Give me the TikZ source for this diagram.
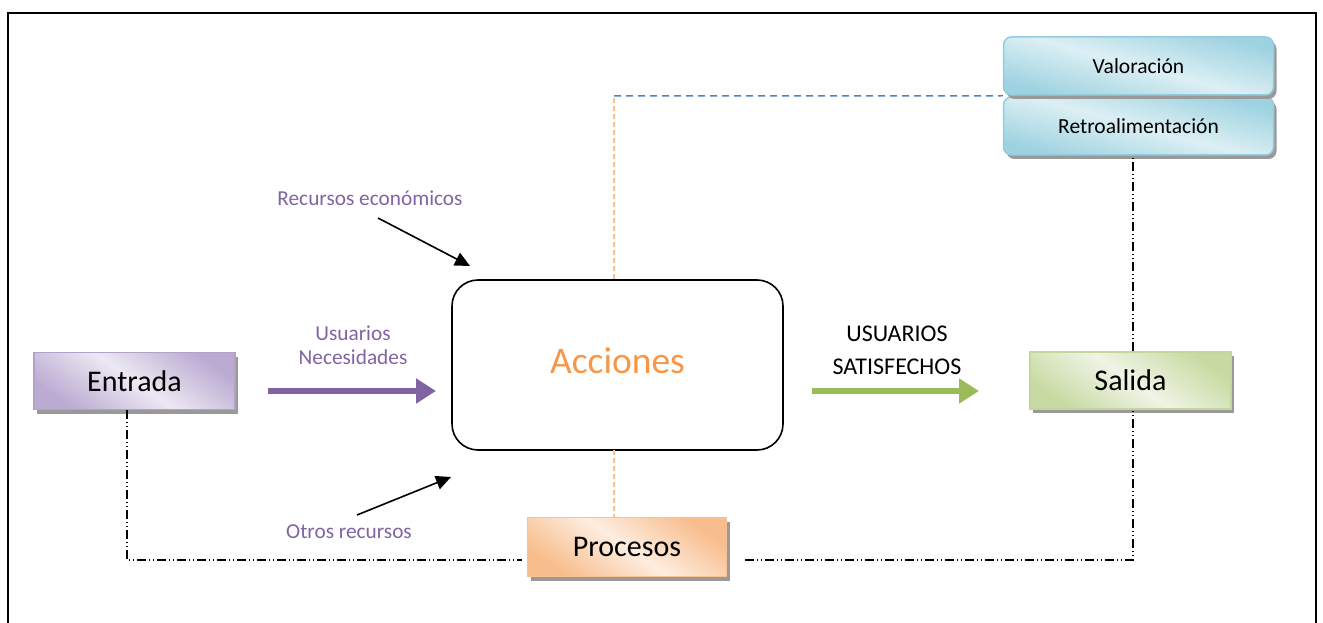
\documentclass[tikz,border=0pt]{standalone}
\usepackage{fontspec}
\setmainfont{Carlito}
\usetikzlibrary{arrows.meta,shadows}
\definecolor{txtpurple}{HTML}{8064A2}
\definecolor{arrgreen}{HTML}{9BBB59}
\definecolor{txtorange}{HTML}{F79646}
\definecolor{dashorange}{HTML}{FAC090}
\definecolor{dashblue}{HTML}{4F81BD}
\definecolor{pBorder}{HTML}{B3A2C7}\definecolor{pDark}{HTML}{BBABD2}\definecolor{pLight}{HTML}{ECE8F3}
\definecolor{gBorder}{HTML}{C3D69B}\definecolor{gDark}{HTML}{C8DAA2}\definecolor{gLight}{HTML}{EFF4E6}
\definecolor{oBorder}{HTML}{FAC090}\definecolor{oDark}{HTML}{F8BD8C}\definecolor{oLight}{HTML}{FDEDE0}
\definecolor{bBorder}{HTML}{93CDDD}\definecolor{bDark}{HTML}{9DD2E0}\definecolor{bLight}{HTML}{DCEFF4}
\tikzset{
  boxshadow/.style={drop shadow={shadow xshift=3pt,shadow yshift=-4pt,fill=black!40,opacity=1}},
  gbox/.style={draw=#1Border,line width=1.5pt,boxshadow,
    top color=#1Dark,bottom color=#1Dark,middle color=#1Light,shading angle=-35,
    inner sep=0pt,font=\fontsize{30}{34}\selectfont},
  smallbox/.style={draw=bBorder,line width=1.5pt,rounded corners=8pt,boxshadow,
    top color=bDark,bottom color=bDark,middle color=bLight,shading angle=-15,
    minimum width=270pt,minimum height=58pt,inner sep=0pt,font=\fontsize{21.5}{24}\selectfont},
  dashdotdot/.style={line width=1.4pt,dash pattern=on 9pt off 3pt on 1pt off 3pt on 1pt off 3pt},
  blackarrow/.style={line width=1.6pt,-{Triangle[length=15pt,width=14pt]}},
  bigarrow/.style={line width=6pt,-{Triangle[length=20pt,width=24pt]}},
  lbl/.style={font=\fontsize{21.3}{24}\selectfont,align=center,inner sep=0pt}
}
\begin{document}
\begin{tikzpicture}[x=1pt,y=-1pt]
\useasboundingbox (0,0) rectangle (1323,623);
% outer frame
\draw[line width=2pt] (8,640) -- (8,13) -- (1316,13) -- (1316,640);

% boxes
\node[gbox=p,minimum width=201pt,minimum height=57pt] (entrada) at (134.5,381) {Entrada};
\node[gbox=g,minimum width=201pt,minimum height=57pt] (salida) at (1130.5,380.5) {Salida};
\node[gbox=o,minimum width=199pt,minimum height=59pt] (procesos) at (627,547) {Procesos};
\node[smallbox] (retro) at (1138.5,126) {Retroalimentación};
\node[smallbox] (valor) at (1138.5,66) {Valoración};
\node[draw,line width=1.6pt,rounded corners=26pt,minimum width=331pt,minimum height=170pt,
      text=txtorange,font=\fontsize{37.5}{42}\selectfont] (acciones) at (617.5,365) {\raisebox{8pt}{Acciones}};

% labels
\node[lbl,text=txtpurple] (recec) at (370,198) {Recursos económicos};
\node[lbl,text=txtpurple] (otros) at (349,532) {Otros recursos};
\node[lbl,text=txtpurple,font=\fontsize{21.3}{24}\selectfont] (usnec) at (353,345) {Usuarios\\Necesidades};
\node[lbl,font=\fontsize{24}{33}\selectfont] (ussat) at (897,350) {USUARIOS\\SATISFECHOS};

% coordinates
\coordinate (re1) at (378,218);
\coordinate (re2) at (470,266);
\coordinate (ot1) at (357,515);
\coordinate (ot2) at (451,477);
\coordinate (pa1) at (268,391);
\coordinate (pa2) at (436,391);
\coordinate (ga1) at (812,391);
\coordinate (ga2) at (979,391);
\coordinate (lcorner) at (127,560);
\coordinate (rcorner) at (1133,560);
\coordinate (pright) at (745,560);
\coordinate (topcorner) at (614,96);
\coordinate (accbot) at (614,450);

% arrows
\draw[blackarrow] (re1) -- (re2);
\draw[blackarrow] (ot1) -- (ot2);
\draw[bigarrow,color=txtpurple] (pa1) -- (pa2);
\draw[bigarrow,color=arrgreen] (ga1) -- (ga2);

% feedback lines
\draw[dashdotdot] (entrada.south -| lcorner) -- (lcorner) -- ([xshift=-5pt]procesos.west |- lcorner);
\draw[dashdotdot] (pright) -- (rcorner) -- (salida.south -| rcorner);
\draw[dashdotdot] (salida.north -| rcorner) -- (retro.south -| rcorner);

% dashed lines
\draw[dashorange,line width=1.2pt,dash pattern=on 5pt off 3pt] (acciones.north -| topcorner) -- (topcorner);
\draw[dashorange,line width=1.2pt,dash pattern=on 5pt off 3pt] (accbot) -- (procesos.north -| accbot);
\draw[dashblue,line width=1.5pt,dash pattern=on 7pt off 5pt] (topcorner) -- (valor.south west);
\end{tikzpicture}
\end{document}
